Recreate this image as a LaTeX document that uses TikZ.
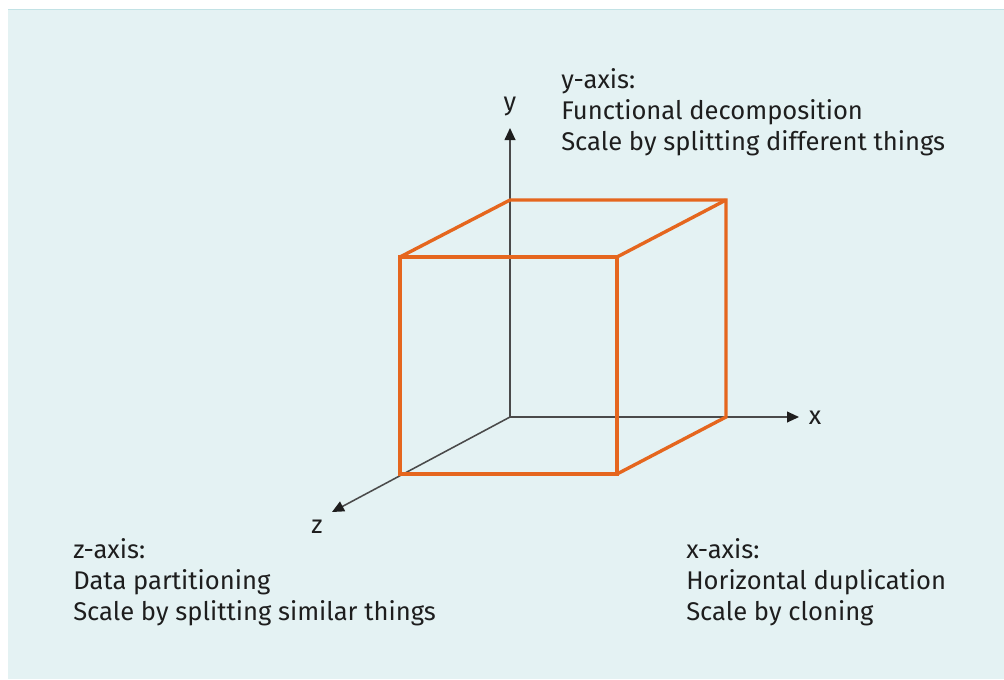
\documentclass[tikz,border=0pt]{standalone}
\usepackage{fontspec}
\setmainfont{Fira Sans}
\usepackage{xcolor}
\usetikzlibrary{arrows.meta, positioning}

\definecolor{panelbg}{HTML}{E4F2F3}
\definecolor{panelline}{HTML}{C2E2E5}
\definecolor{cubeorange}{HTML}{E5661E}
\definecolor{axisgray}{HTML}{4A4A4A}
\definecolor{textdark}{HTML}{1E1E1E}

\begin{document}
\begin{tikzpicture}[
    x=0.025cm, y=-0.025cm,
    every node/.style={inner sep=0pt, text=textdark, font=\fontsize{18.2}{22}\selectfont},
    axislabel/.style={anchor=base},
    caption/.style={align=left, anchor=base west},
    axis/.style={axisgray, line width=1.1pt, -{Triangle[length=0.3cm, width=0.27cm, color=textdark]}},
    cube/.style={cubeorange, line width=2.4pt, line join=miter}
]

% Background
\useasboundingbox (0,0) rectangle (1004,679);
\fill[white] (0,0) rectangle (1004,679);
\fill[panelbg] (8,9) rectangle (1004,679);
\draw[panelline, line width=0.6pt] (8,9) -- (1004,9);

% Axes
\coordinate (origin) at (510,417);
\coordinate (ytip) at (510,128);
\coordinate (xtip) at (799,417);
\coordinate (ztip) at (332,512);
\draw[axis] (origin) -- (ytip);
\draw[axis] (origin) -- (xtip);
\draw[axis] (origin) -- (ztip);

% Cube corners
\coordinate (backtl) at (510,200);
\coordinate (backtr) at (726,200);
\coordinate (backbr) at (726,417);
\coordinate (fronttl) at (400,257);
\coordinate (fronttr) at (617,257);
\coordinate (frontbr) at (617,474);
\coordinate (frontbl) at (400,474);

% Cube edges
\draw[cube] (fronttl) -- (fronttr) -- (frontbr) -- (frontbl) -- cycle;
\draw[cube] (fronttl) -- (backtl) -- (backtr) -- (backbr) -- (frontbr);
\draw[cube] (fronttr) -- (backtr);

% Labels
\node[axislabel] (ylabel) at (510,110) {y};
\node[axislabel] (xlabel) at (815,424) {x};
\node[axislabel] (zlabel) at (317,533) {z};

% last line baseline
\node[caption] (ytext) at (561,150) {y-axis:\\Functional decomposition\\Scale by splitting different things};
\node[caption] (ztext) at (73,620) {z-axis:\\Data partitioning\\Scale by splitting similar things};
\node[caption] (xtext) at (686,620) {x-axis:\\Horizontal duplication\\Scale by cloning};

\end{tikzpicture}
\end{document}
